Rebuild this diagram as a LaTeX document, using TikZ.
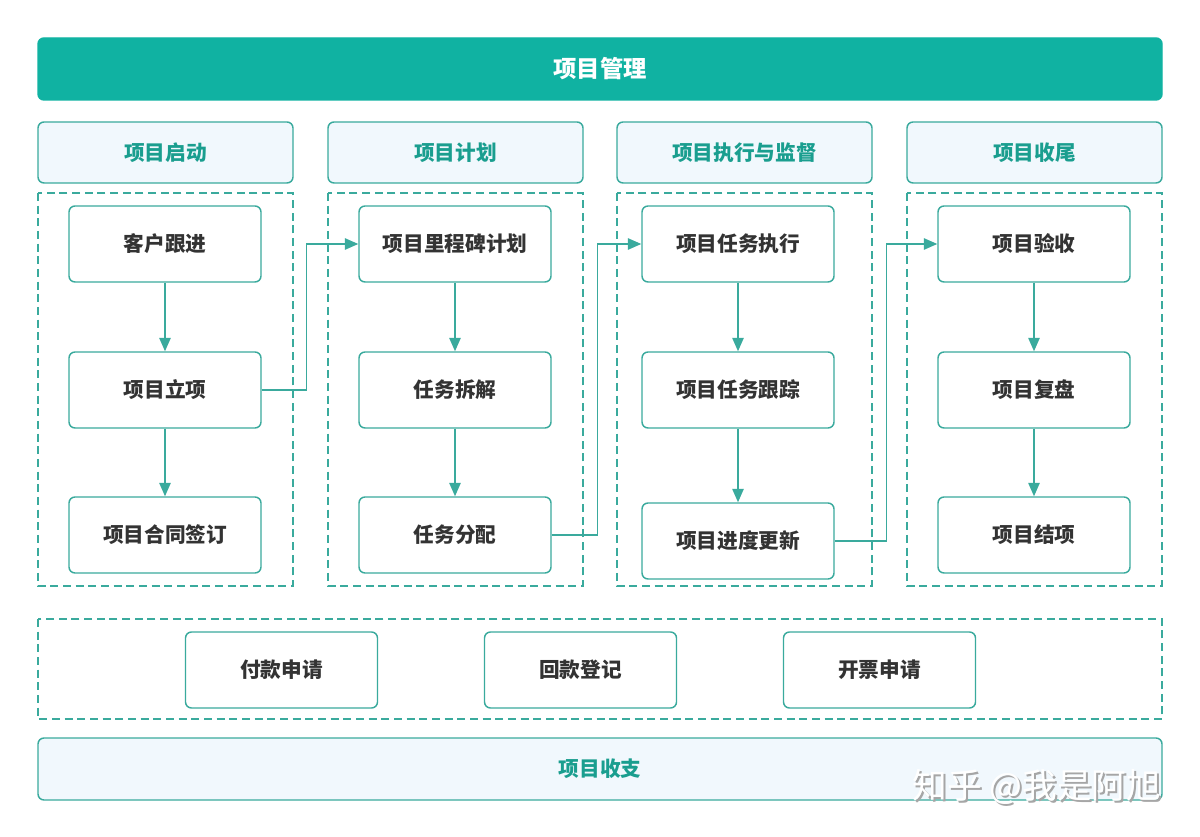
\documentclass[tikz,border=0pt]{standalone}
\usepackage{fontspec}
\setmainfont{Noto Sans CJK SC}
\usetikzlibrary{arrows.meta, positioning}
\definecolor{teal1}{HTML}{10B2A2}
\definecolor{tealline}{HTML}{3AAA9D}
\definecolor{tealtext}{HTML}{1A9E8F}
\definecolor{headfill}{HTML}{F1F8FD}
\definecolor{txt}{HTML}{333333}
\tikzset{
	block/.style={rectangle, draw=tealline, line width=1.1pt, fill=white, rounded corners=4.5pt, minimum width=144pt, minimum height=57pt, text=txt, font=\fontsize{15.5}{17}\selectfont\bfseries},
	head/.style={rectangle, draw=tealline, line width=1.1pt, fill=headfill, rounded corners=4.5pt, minimum width=191.25pt, minimum height=45.75pt, text=tealtext, font=\fontsize{15.5}{17}\selectfont\bfseries},
	group/.style={draw=tealline, line width=1.1pt, dash pattern=on 6pt off 3.5pt},
	line/.style={draw=tealline, line width=1.1pt, -{Triangle[length=10pt, width=8.5pt]}}
}
\begin{document}
\begin{tikzpicture}[x=0.75pt, y=-0.75pt]
	\useasboundingbox (0,0) rectangle (1200,837);
	% top bar
	\node[head, fill=teal1, draw=teal1, text=white, minimum width=843pt, minimum height=46.5pt, font=\fontsize{17.5}{19}\selectfont\bfseries] (guanli) at (600,69) {项目管理};
	
	% column headers
	\node[head] (qidong) at (165.5,152.5) {项目启动};
	\node[head] (jihua) at (455.5,152.5) {项目计划};
	\node[head] (zhixing) at (744.5,152.5) {项目执行与监督};
	\node[head] (shouwei) at (1034.5,152.5) {项目收尾};
	
	% dashed groups
	\draw[group] (38,193) rectangle (293,586);
	\draw[group] (328,193) rectangle (583,586);
	\draw[group] (617,193) rectangle (872,586);
	\draw[group] (907,193) rectangle (1162,586);
	\draw[group] (38,619) rectangle (1162,719);
	
	% column 1
	\node[block] (genjin) at (165,244) {客户跟进};
	\node[block] (lixiang) at (165,390) {项目立项};
	\node[block] (hetong) at (165,535) {项目合同签订};
	% column 2
	\node[block] (lichengbei) at (455,244) {项目里程碑计划};
	\node[block] (chaijie) at (455,390) {任务拆解};
	\node[block] (fenpei) at (455,535) {任务分配};
	% column 3
	\node[block] (renwu) at (738,244) {项目任务执行};
	\node[block] (genzong) at (738,390) {项目任务跟踪};
	\node[block] (jindu) at (738,541) {项目进度更新};
	% column 4
	\node[block] (yanshou) at (1034,244) {项目验收};
	\node[block] (fupan) at (1034,390) {项目复盘};
	\node[block] (jiexiang) at (1034,535) {项目结项};
	
	% money row
	\node[block] (fukuan) at (281.5,670) {付款申请};
	\node[block] (huikuan) at (580.5,670) {回款登记};
	\node[block] (kaipiao) at (879.5,670) {开票申请};
	
	% bottom bar
	\node[head, minimum width=843pt, minimum height=46.5pt] (shouzhi) at (600,769) {项目收支};
	
	% arrows
	\draw[line] (genjin) -- (lixiang);
	\draw[line] (lixiang) -- (hetong);
	\draw[line] (lichengbei) -- (chaijie);
	\draw[line] (chaijie) -- (fenpei);
	\draw[line] (renwu) -- (genzong);
	\draw[line] (genzong) -- (jindu);
	\draw[line] (yanshou) -- (fupan);
	\draw[line] (fupan) -- (jiexiang);
	\draw[line] (lixiang.east) -- ++(45,0) |- (lichengbei.west);
	\draw[line] (fenpei.east) -- ++(46,0) |- (renwu.west);
	\draw[line] (jindu.east) -- ++(52,0) |- (yanshou.west);
	
	% watermark
	\node[text=gray!70, font=\fontsize{26}{28}\selectfont] (zhihu-s) at (1039,789) {知乎 @我是阿旭};
	\node[text=white, font=\fontsize{26}{28}\selectfont] (zhihu) at (1037,787) {知乎 @我是阿旭};
\end{tikzpicture}
\end{document}
